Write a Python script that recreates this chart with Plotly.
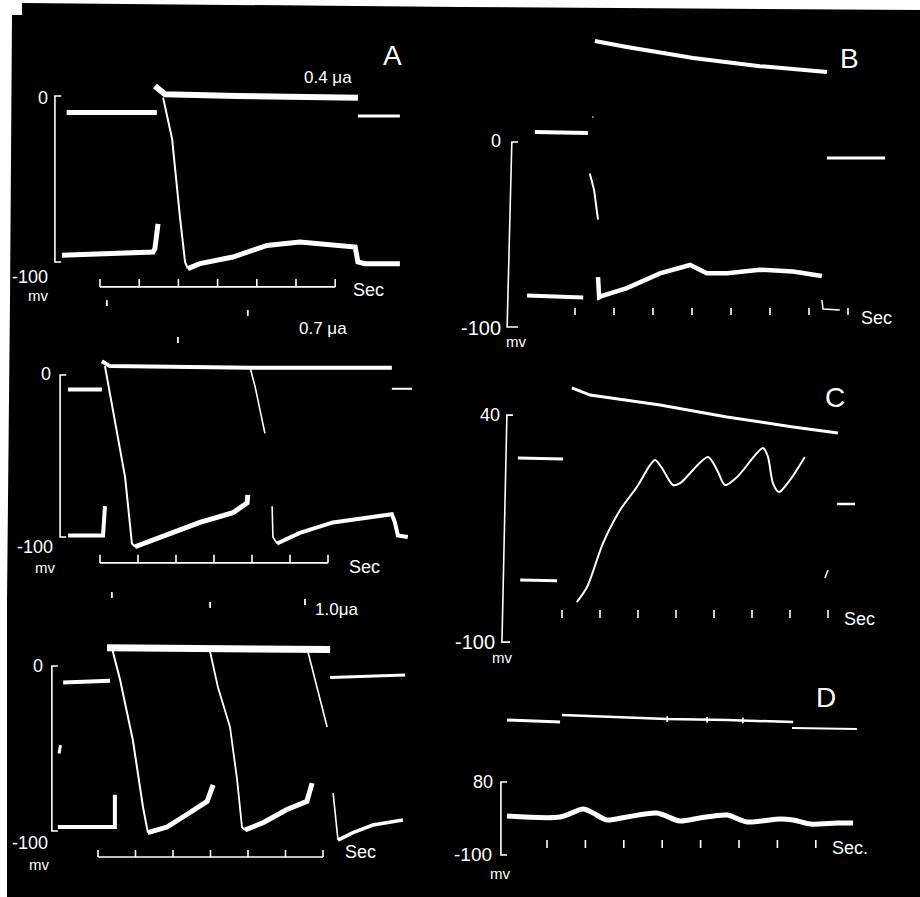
import plotly.graph_objects as go

W, H = 920, 897
FONT = "Liberation Sans"

# ---------------- data: time in s, potential in mV ----------------
# Panel A, 0.4 uA
A1_pre_t = [-0.85, 1.45];                   A1_pre_v = [-10, -10]
A1_top_t = [1.40, 1.66, 3.5, 6.58];         A1_top_v = [6, 1, 0, -1]
A1_post_t = [6.58, 7.65];                   A1_post_v = [-12, -12]
A1_base_t = [-0.97, 1.35, 1.40, 1.48];      A1_base_v = [-96, -94, -92, -77]
A1_down_t = [1.61, 1.84, 2.04, 2.17, 2.24]; A1_down_v = [-1, -26, -73, -100, -104]
A1_rec_t = [2.24, 2.55, 3.39, 4.26, 5.10, 5.94, 6.51, 6.58, 6.76, 7.65]
A1_rec_v = [-104, -101, -97, -90, -88, -90, -91, -100, -101, -101]

# Panel A, 0.7 uA
A2_pre_t = [-0.84, 0.05];                   A2_pre_v = [-9, -9]
A2_top_t = [0.05, 0.26, 3.95, 7.68];        A2_top_v = [8.5, 5.5, 4.5, 4.5]
A2_post_t = [7.68, 8.21];                   A2_post_v = [-8.5, -8.5]
A2_base_t = [-0.84, 0.08, 0.13];            A2_base_v = [-99, -99, -81]
A2_down1_t = [0.13, 0.45, 0.66, 0.84, 0.92]; A2_down1_v = [5.5, -36, -63, -104, -106]
A2_rec1_t = [0.92, 1.76, 2.63, 3.5, 3.87, 3.89]; A2_rec1_v = [-106, -99, -91, -85, -79, -74]
A2_down2_t = [3.95, 4.08, 4.34, None, 4.53, 4.55, 4.66]; A2_down2_v = [4.5, -7, -36, None, -81, -100, -104]
A2_rec2_t = [4.66, 5.26, 6.13, 7.03, 7.68, 7.76, 7.84, 8.1]
A2_rec2_v = [-104, -97.5, -91, -88, -86, -91, -99, -100]
A2_stim_t = [0.18, 2.05, 3.89];             A2_stim_v = [44.4, 21.6, 38.3]

# Panel A, 1.0 uA
A3_pre_t = [-0.93, 0.32];                   A3_pre_v = [-10, -9]
A3_top_t = [0.24, 6.19];                    A3_top_v = [11, 10]
A3_post_t = [6.19, 8.19];                   A3_post_v = [-7, -5.5]
A3_base_t = [-1.07, 0.45, 0.45];            A3_base_v = [-97.6, -97.6, -78]
A3_down1_t = [0.37, 0.59, 0.93, 1.2, 1.33];  A3_down1_v = [11, -8.5, -45, -85.5, -101]
A3_rec1_t = [1.33, 1.84, 2.37, 2.91, 3.07];  A3_rec1_v = [-101, -97.6, -90, -82, -72]
A3_down2_t = [2.99, 3.2, 3.52, 3.71, 3.84, 3.92]; A3_down2_v = [8.5, -13, -37, -69, -97.6, -99.4]
A3_rec2_t = [3.92, 4.4, 5.04, 5.57, 5.71];   A3_rec2_v = [-99.4, -95, -87, -82, -71]
A3_down3_t = [5.6, 5.84, 6.11, None, 6.27, 6.37, 6.4]; A3_down3_v = [8.5, -13, -37, None, -77, -101, -105.5]
A3_rec3_t = [6.4, 6.8, 7.33, 8.13];          A3_rec3_v = [-105.5, -101, -96.4, -93.3]
A3_stim_t = [0.37, 2.99, 5.52];             A3_stim_v = [43, 37, 38.8]
A3_blob_t = [-1.0, -1.04];                  A3_blob_v = [-48, -53]

# Panel B
B_top_t = [0.51, 1.33, 3.03, 4.74, 6.46];    B_top_v = [54.6, 51.4, 45.4, 41, 37.8]
B_pre_t = [-1.03, 0.33];                    B_pre_v = [5.4, 4.9]
B_dot_t = [0.45, 0.47];                     B_dot_v = [13.5, 13.5]
B_down_t = [0.38, 0.49, 0.59];              B_down_v = [-17, -26, -42]
B_post_t = [6.46, 7.95];                    B_post_v = [-8.6, -8.6]
B_base_t = [-1.23, 0.21];                   B_base_v = [-83, -84]
B_low_t = [0.59, 0.62, 0.72, 1.33, 2.18, 2.95, 3.38, 3.9, 4.74, 5.59, 6.33]
B_low_v = [-73, -84, -83, -79, -71, -66.5, -71, -71, -69, -70, -72.4]
B_end_t = [6.33, 6.36, 6.79];               B_end_v = [-85.4, -90.3, -90.8]

# Panel C
C_top_t = [0.26, 0.74, 2.58, 4.34, 6.08, 7.26]; C_top_v = [56.8, 52.4, 46.3, 38.9, 32.7, 29]
C_hi_t = [-1.16, 0.03];                     C_hi_v = [13.6, 13.0]
C_lo_t = [-1.1, -0.13];                     C_lo_v = [-61.7, -62.2]
C_post_t = [7.24, 7.71];                    C_post_v = [-14.8, -14.8]
C_mark_t = [7.0, 6.92];                     C_mark_v = [-55.5, -60.5]
C_ap_t = [0.39, 0.66, 1.08, 1.53, 1.97, 2.32, 2.45, 2.63, 2.92, 3.11, 3.84, 4.08,
          4.29, 4.61, 5.29, 5.42, 5.55, 5.71, 6.0, 6.39]
C_ap_v = [-75.3, -66, -38.9, -18.5, -4.3, 9.3, 12.3, 7.4, -3.1, -1.9, 14.2, 6.2,
          -3.1, 1.9, 19.7, 14.2, -1.9, -7.4, 0, 14.2]

# Panel D
D_top1_t = [-1.04, 0.34];                   D_top1_v = [232.7, 227.8]
D_top2_t = [0.39, 1.72, 3.13, 4.69, 6.41];  D_top2_v = [245, 240, 235, 232.7, 227.8]
D_top3_t = [6.38, 8.07];                    D_top3_v = [213, 210.5]
D_mark_t = [3.13, 4.17, 5.1];               D_mark_v = [235, 233.5, 231.5]
D_low_t = [-1.04, 0.34, 0.94, 1.2, 1.56, 2.08, 2.86, 3.46, 3.98, 4.69, 5.21, 6.07,
           6.41, 6.85, 7.55, 7.97]
D_low_v = [-3.9, -6.4, 13.3, 3.5, -13.8, -6.4, 3.5, -16.3, -8.9, -1.5, -18.7, -11.3,
           -13.8, -23.7, -21.2, -21.2]

A_ticks = [0, 1, 2, 3, 4, 5, 6]
BCD_ticks = [0, 1, 2, 3, 4, 5, 6, 7]

# ---------------- per-panel scale calibration (pixel origin / px per unit) ----------------
CAL = {
    "A1": dict(n=1, t0=100, sx=39.2, v0=96, sv=1.66),
    "A2": dict(n=2, t0=100, sx=38.0, v0=375, sv=1.62),
    "A3": dict(n=3, t0=98, sx=37.5, v0=666, sv=1.65),
    "B":  dict(n=4, t0=575, sx=39.0, v0=142, sv=1.85),
    "C":  dict(n=5, t0=562, sx=38.0, v0=480, sv=1.621),
    "D":  dict(n=6, t0=547, sx=38.4, v0=814.4, sv=0.4056),
}

fig = go.Figure()


def refs(p):
    n = CAL[p]["n"]
    s = "" if n == 1 else str(n)
    return "x" + s, "y" + s


def seg(p, t, v, w, shape="linear"):
    xr, yr = refs(p)
    fig.add_trace(go.Scatter(x=t, y=v, xaxis=xr, yaxis=yr, mode="lines",
                             line=dict(color="white", width=w, shape=shape, smoothing=0.8),
                             hoverinfo="skip", showlegend=False, connectgaps=False))


def lab(p, t, v, text, size, xanchor="center", yanchor="middle"):
    xr, yr = refs(p)
    fig.add_annotation(x=t, y=v, xref=xr, yref=yr, text=text, showarrow=False,
                       xanchor=xanchor, yanchor=yanchor,
                       font=dict(family=FONT, size=size, color="white"))


def time_scale(p, ticks, base, top, baseline=True, w=1.6):
    xs, ys = [], []
    for t in ticks:
        xs += [t, t, None]
        ys += [base, top, None]
    seg(p, xs, ys, w)
    if baseline:
        seg(p, [ticks[0], ticks[-1]], [base, base], w)


def bracket(p, xt, xb, st, sb, vtop, vbot, w=1.6):
    seg(p, [st, xt, xb, sb], [vtop, vtop, vbot, vbot], w)


def stim_marks(p, t, v, h=1.8):
    xs, ys = [], []
    for a, b in zip(t, v):
        xs += [a, a, None]
        ys += [b + h, b - h, None]
    seg(p, xs, ys, 1.8)


# ---- Panel A1
seg("A1", A1_pre_t, A1_pre_v, 5)
seg("A1", A1_top_t, A1_top_v, 6)
seg("A1", A1_post_t, A1_post_v, 3)
seg("A1", A1_base_t, A1_base_v, 5)
seg("A1", A1_down_t, A1_down_v, 2)
seg("A1", A1_rec_t, A1_rec_v, 5)
time_scale("A1", A_ticks, -115, -110.2)
bracket("A1", -1.15, -1.15, -0.99, -0.99, 0, -100)
lab("A1", -1.28, -1, "0", 18, "right")
lab("A1", -1.28, -109, "-100", 18, "right")
lab("A1", -1.58, -120, "mv", 15)
lab("A1", 6.84, -116.6, "Sec", 18)
lab("A1", 5.82, 11.4, "0.4 μa", 17)
lab("A1", 7.47, 24.7, "A", 28)

# ---- Panel A2
seg("A2", A2_pre_t, A2_pre_v, 4)
seg("A2", A2_top_t, A2_top_v, 4)
seg("A2", A2_post_t, A2_post_v, 2)
seg("A2", A2_base_t, A2_base_v, 4)
seg("A2", A2_down1_t, A2_down1_v, 2)
seg("A2", A2_rec1_t, A2_rec1_v, 5)
seg("A2", A2_down2_t, A2_down2_v, 1.6)
seg("A2", A2_rec2_t, A2_rec2_v, 4)
stim_marks("A2", A2_stim_t, A2_stim_v)
time_scale("A2", A_ticks, -116, -111)
bracket("A2", -1.05, -1.05, -0.89, -0.89, 0, -100)
lab("A2", -1.24, 0.6, "0", 18, "right")
lab("A2", -1.18, -106, "-100", 18, "right")
lab("A2", -1.45, -119, "mv", 15)
lab("A2", 6.97, -118.5, "Sec", 18)
lab("A2", 5.87, 28.4, "0.7 μa", 17)

# ---- Panel A3
seg("A3", A3_pre_t, A3_pre_v, 4)
seg("A3", A3_top_t, A3_top_v, 7)
seg("A3", A3_post_t, A3_post_v, 3)
seg("A3", A3_base_t, A3_base_v, 4)
seg("A3", A3_down1_t, A3_down1_v, 2)
seg("A3", A3_rec1_t, A3_rec1_v, 5)
seg("A3", A3_down2_t, A3_down2_v, 1.8)
seg("A3", A3_rec2_t, A3_rec2_v, 5)
seg("A3", A3_down3_t, A3_down3_v, 1.6)
seg("A3", A3_rec3_t, A3_rec3_v, 3.5)
seg("A3", A3_blob_t, A3_blob_v, 3)
stim_marks("A3", A3_stim_t, A3_stim_v)
time_scale("A3", A_ticks, -115.8, -111.5)
bracket("A3", -1.23, -1.23, -1.07, -1.07, 0, -100)
lab("A3", -1.41, 0, "0", 18, "right")
lab("A3", -1.28, -107, "-100", 18, "right")
lab("A3", -1.57, -120.6, "mv", 15)
lab("A3", 6.99, -113, "Sec", 18)
lab("A3", 6.37, 34, "1.0μa", 17)

# ---- Panel B
seg("B", B_top_t, B_top_v, 4)
seg("B", B_pre_t, B_pre_v, 4)
seg("B", B_dot_t, B_dot_v, 2)
seg("B", B_down_t, B_down_v, 2)
seg("B", B_post_t, B_post_v, 3)
seg("B", B_base_t, B_base_v, 4)
seg("B", B_low_t, B_low_v, 4.5)
seg("B", B_end_t, B_end_v, 1.5)
time_scale("B", BCD_ticks, -89.7, -93.5, baseline=False)
bracket("B", -1.62, -1.74, -1.46, -1.46, 0, -100)
lab("B", -1.85, 0.5, "0", 18, "right")
lab("B", -1.85, -100.5, "-100", 20, "right")
lab("B", -1.51, -108, "mv", 15)
lab("B", 7.74, -95, "Sec", 18)
lab("B", 7.05, 45.4, "B", 28)

# ---- Panel C
seg("C", C_top_t, C_top_v, 3)
seg("C", C_hi_t, C_hi_v, 3)
seg("C", C_lo_t, C_lo_v, 3)
seg("C", C_post_t, C_post_v, 2.5)
seg("C", C_mark_t, C_mark_v, 1.5)
seg("C", C_ap_t, C_ap_v, 2, shape="spline")
time_scale("C", BCD_ticks, -80.2, -85.1, baseline=False)
bracket("C", -1.45, -1.58, -1.29, -1.37, 40, -100)
lab("C", -1.58, 40, "40", 18, "right")
lab("C", -1.70, -100, "-100", 20, "right")
lab("C", -1.58, -109.8, "mv", 15)
lab("C", 7.84, -85.7, "Sec", 18)
lab("C", 7.18, 51.2, "C", 28)

# ---- Panel D
seg("D", D_top1_t, D_top1_v, 3)
seg("D", D_top2_t, D_top2_v, 2.5)
seg("D", D_top3_t, D_top3_v, 2)
stim_marks("D", D_mark_t, D_mark_v, h=7)
seg("D", D_low_t, D_low_v, 5, shape="spline")
time_scale("D", BCD_ticks, -63, -83, baseline=False)
bracket("D", -1.2, -1.2, -1.04, -1.04, 80, -100)
lab("D", -1.35, 80, "80", 18, "right")
lab("D", -1.38, -100, "-100", 19, "right")
lab("D", -1.22, -145, "mv", 15)
lab("D", 7.89, -83, "Sec.", 18)
lab("D", 7.27, 287, "D", 28)

# ---------------- axes: every panel uses the full canvas with its own calibrated scale ----------------
layout_axes = {}
for p, c in CAL.items():
    n = c["n"]
    s = "" if n == 1 else str(n)
    xr = [(0 - c["t0"]) / c["sx"], (W - c["t0"]) / c["sx"]]
    yr = [(c["v0"] - H) / c["sv"], c["v0"] / c["sv"]]
    layout_axes["xaxis" + s] = dict(domain=[0, 1], range=xr, visible=False,
                                    anchor="y" + s, fixedrange=True)
    layout_axes["yaxis" + s] = dict(domain=[0, 1], range=yr, visible=False,
                                    anchor="x" + s, fixedrange=True)


def P(px, py):
    return f"{px / W:.5f},{1 - py / H:.5f}"


bg_path = ("M " + P(22, 3) + " L " + P(460, 7) + " L " + P(920, 10) + " L " + P(920, 897)
           + " L " + P(7, 897) + " L " + P(7, 600) + " L " + P(10, 300) + " L " + P(12, 15)
           + " L " + P(22, 15) + " Z")

fig.update_layout(
    width=W, height=H,
    margin=dict(l=0, r=0, t=0, b=0),
    paper_bgcolor="white",
    plot_bgcolor="rgba(0,0,0,0)",
    showlegend=False,
    shapes=[dict(type="path", path=bg_path, xref="paper", yref="paper",
                 fillcolor="black", line=dict(width=0), layer="below")],
    **layout_axes,
)

fig.write_html(
    "out.html",
    config=dict(displayModeBar=False),
    post_script="document.body.style.margin='0';document.body.style.overflow='hidden';",
)
